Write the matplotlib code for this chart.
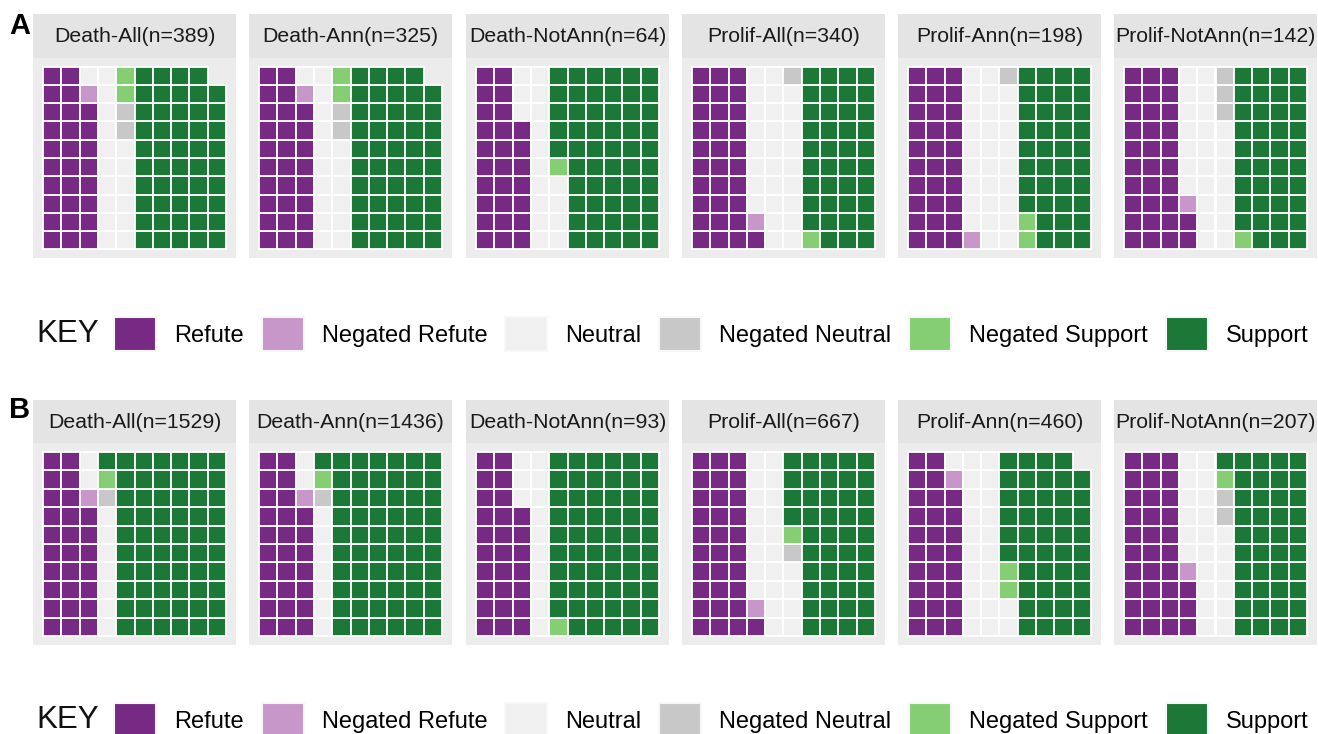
import matplotlib
matplotlib.use("Agg")
import matplotlib.pyplot as plt
from matplotlib.patches import Patch

plt.rcParams["font.family"] = ["Liberation Sans", "DejaVu Sans"]

# categories in fill order and their colours
categories = ["Refute", "Negated Refute", "Neutral", "Negated Neutral",
              "Negated Support", "Support"]
cat_colors = ["#762a83", "#c897c9", "#f0f0f0", "#c8c8c8", "#86ce74", "#1b7837"]

# panel A (squares out of 100)
titles_a = ["Death-All(n=389)", "Death-Ann(n=325)", "Death-NotAnn(n=64)",
            "Prolif-All(n=340)", "Prolif-Ann(n=198)", "Prolif-NotAnn(n=142)"]
squares_a = [
    [28, 1, 17, 2, 2, 49],
    [28, 1, 17, 2, 2, 49],
    [27, 0, 17, 0, 1, 55],
    [31, 1, 27, 1, 1, 39],
    [30, 1, 28, 1, 2, 38],
    [32, 1, 24, 3, 1, 39],
]

# panel B
titles_b = ["Death-All(n=1529)", "Death-Ann(n=1436)", "Death-NotAnn(n=93)",
            "Prolif-All(n=667)", "Prolif-Ann(n=460)", "Prolif-NotAnn(n=207)"]
squares_b = [
    [27, 1, 9, 1, 1, 61],
    [27, 1, 9, 1, 1, 61],
    [27, 0, 13, 0, 1, 59],
    [31, 1, 22, 1, 1, 44],
    [28, 1, 23, 0, 2, 45],
    [33, 1, 22, 2, 1, 41],
]

W, H = 1318, 734
STRIP_BG = "#e4e4e4"
PANEL_BG = "#ececec"
panel_lefts = [33, 249, 466, 682, 898, 1114]
panel_w = 203


def px_box(x0, y0, x1, y1):
    return [x0 / W, 1 - y1 / H, (x1 - x0) / W, (y1 - y0) / H]


def draw_waffle(fig, left, strip_top, strip_bot, panel_bot, title, counts):
    sax = fig.add_axes(px_box(left, strip_top, left + panel_w, strip_bot))
    sax.set_facecolor(STRIP_BG)
    sax.set_xticks([])
    sax.set_yticks([])
    for s in sax.spines.values():
        s.set_visible(False)
    sax.text(0.5, 0.48, title, ha="center", va="center", fontsize=15.3,
             color="#1a1a1a", transform=sax.transAxes)

    ax = fig.add_axes(px_box(left, strip_bot, left + panel_w, panel_bot))
    ax.set_facecolor(PANEL_BG)
    k = 0
    for cat_i, n in enumerate(counts):
        for _ in range(n):
            col, row = divmod(k, 10)
            ax.bar(col, 1, bottom=row, width=1, align="edge",
                   color=cat_colors[cat_i], edgecolor="white", linewidth=1.3)
            k += 1
    ax.set_xlim(-0.55, 10.55)
    ax.set_ylim(-0.47, 10.47)
    ax.set_xticks([])
    ax.set_yticks([])
    for s in ax.spines.values():
        s.set_visible(False)


def draw_key(fig, y_center):
    fig.text(36 / W, 1 - y_center / H, "KEY", fontsize=22.5, ha="left",
             va="center", color="#111111")
    handles = [Patch(facecolor=c, edgecolor="#f7f7f7", linewidth=1.5,
                     label=lab) for c, lab in zip(cat_colors, categories)]
    fig.legend(handles=handles, loc="center left",
               bbox_to_anchor=(114 / W, 1 - y_center / H), ncol=6,
               frameon=False, fontsize=17, handlelength=1.78,
               handleheight=1.78, handletextpad=0.76, columnspacing=0.76,
               borderpad=0, borderaxespad=0)


fig = plt.figure(figsize=(W / 100, H / 100), dpi=100)

for left, title, counts in zip(panel_lefts, titles_a, squares_a):
    draw_waffle(fig, left, 14, 58, 258, title, counts)
for left, title, counts in zip(panel_lefts, titles_b, squares_b):
    draw_waffle(fig, left, 400, 443, 645, title, counts)

fig.text(9 / W, 1 - 26 / H, "A", fontsize=21, fontweight="bold",
         ha="left", va="center")
fig.text(9 / W, 1 - 410 / H, "B", fontsize=21, fontweight="bold",
         ha="left", va="center")

draw_key(fig, 334)
draw_key(fig, 720)

fig.savefig("out.png", dpi=100, facecolor="white")
